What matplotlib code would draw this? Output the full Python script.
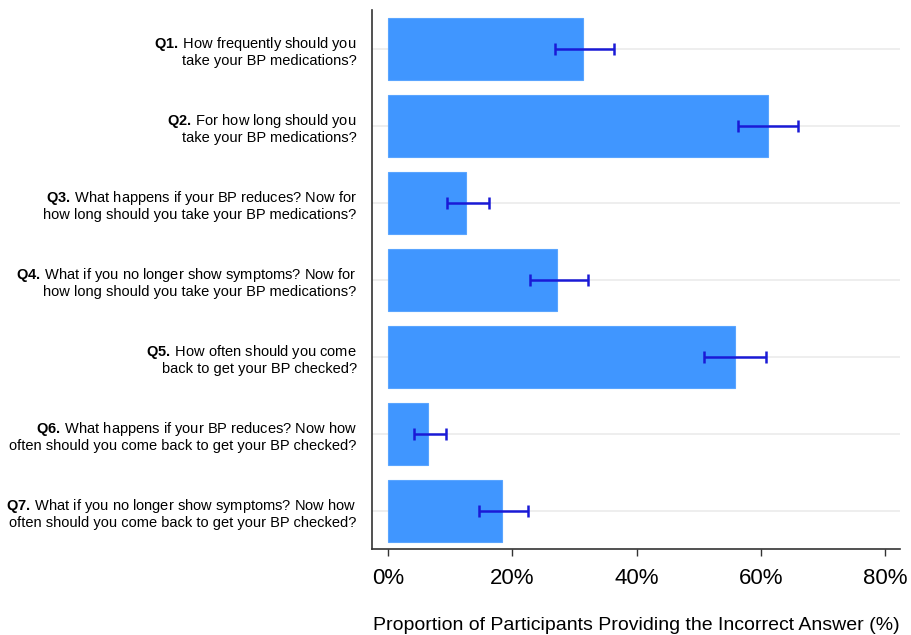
import matplotlib
matplotlib.use("Agg")
import matplotlib.pyplot as plt
import numpy as np

plt.rcParams["font.family"] = ["Liberation Sans", "DejaVu Sans"]
plt.rcParams["mathtext.fontset"] = "custom"
plt.rcParams["mathtext.rm"] = "Liberation Sans"
plt.rcParams["mathtext.bf"] = "Liberation Sans:bold"

questions = ["Q1.", "Q2.", "Q3.", "Q4.", "Q5.", "Q6.", "Q7."]
question_text = [
    "How frequently should you\ntake your BP medications?",
    "For how long should you\ntake your BP medications?",
    "What happens if your BP reduces? Now for\nhow long should you take your BP medications?",
    "What if you no longer show symptoms? Now for\nhow long should you take your BP medications?",
    "How often should you come\nback to get your BP checked?",
    "What happens if your BP reduces? Now how\noften should you come back to get your BP checked?",
    "What if you no longer show symptoms? Now how\noften should you come back to get your BP checked?",
]
pct_incorrect = [31.3, 61.2, 12.6, 27.2, 55.9, 6.4, 18.3]
ci_low = [26.9, 56.3, 9.5, 22.9, 50.9, 4.2, 14.6]
ci_high = [36.3, 66.0, 16.3, 32.2, 60.8, 9.3, 22.6]

# bold question number, then the question text on two right-aligned lines
labels = []
for q, t in zip(questions, question_text):
    first, second = t.split("\n")
    labels.append("$\\mathbf{" + q + "}\\,$" + first + "\n" + second)

y = np.arange(len(questions))
pct = np.array(pct_incorrect)
err = np.array([pct - np.array(ci_low), np.array(ci_high) - pct])

fig = plt.figure(figsize=(9.11, 6.35), dpi=100)
ax = fig.add_axes([0.4083, 0.1354, 0.5797, 0.8489])

ax.grid(axis="y", color="#EBEBEB", lw=1.2, zorder=0)
ax.set_axisbelow(True)
ax.barh(y, pct, height=0.8, color="#4096FF", edgecolor="#5AA5FF", lw=0.8, zorder=2)
ax.errorbar(pct, y, xerr=err, fmt="none", ecolor="#1A1AD6", elinewidth=1.8,
            capsize=4.5, capthick=1.8, zorder=3)

ax.set_xlim(-2.58, 82.4)
ax.set_ylim(6.49, -0.51)
ax.set_xticks([0, 20, 40, 60, 80])
ax.set_xticklabels(["0%", "20%", "40%", "60%", "80%"], fontsize=16)
ax.set_yticks(y)
ax.set_yticklabels(labels, fontsize=10.5, linespacing=1.1)
ax.tick_params(axis="y", length=0, pad=11)
ax.tick_params(axis="x", length=5, width=1, color="#333333", pad=9)

for side in ["top", "right"]:
    ax.spines[side].set_visible(False)
for side in ["left", "bottom"]:
    ax.spines[side].set_color("#333333")
    ax.spines[side].set_linewidth(1.2)

ax.set_xlabel("Proportion of Participants Providing the Incorrect Answer (%)",
              fontsize=14, labelpad=20)

fig.savefig("out.png", dpi=100, facecolor="white")
